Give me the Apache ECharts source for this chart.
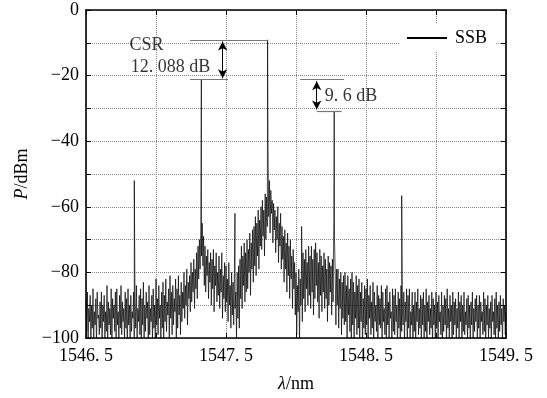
<!DOCTYPE html>
<html><head><meta charset="utf-8">
<script src="https://cdn.jsdelivr.net/npm/echarts@6/dist/echarts.min.js"></script>
<style>html,body{margin:0;padding:0;background:#fff}#c{width:547px;height:398px}</style>
</head><body><div id="c"></div>
<script>
// sampled spectrum: start wavelength, step (nm), power (dBm)
var lambdaStart = 1546.50;
var lambdaStep = 0.005;
var ssbPower = [
-88,-98,-86,-101,-91,-95,-87,-103,-90,-97,
-85,-100,-92,-96,-88,-102,-86,-94,-93,-99,
-89,-97,-86,-104,-90,-95,-87,-100,-92,-98,
-84,-101,-89,-96,-91,-99,-85,-103,-88,-94,
-90,-98,-86,-100,-85,-96,-92,-102,-87,-97,
-84,-99,-89,-95,-91,-101,-86,-97,-88,-104,
-85,-96,-90,-100,-87,-98,-92,-94,-86,-102,
-89,-97,-84,-101,-91,-95,-87,-99,-85,-103,
-88,-96,-83,-100,-90,-98,-86,-94,-89,-102,
-84,-99,-91,-95,-87,-101,-85,-97,-90,-100,
-82,-96,-88,-99,-84,-94,-90,-102,-86,-97,
-83,-100,-87,-95,-82,-98,-89,-93,-85,-101,
-81,-94,-86,-99,-84,-96,-88,-92,-82,-100,
-85,-97,-81,-93,-87,-99,-83,-95,-86,-91,
-80,-94,-84,-90,-79,-96,-83,-88,-81,-92,
-77,-89,-80,-86,-76,-91,-79,-85,-74,-88,
-72,-82,-70,-79,-67,-75,-65,-78,-69,-84,
-72,-86,-75,-81,-73,-88,-77,-83,-74,-90,
-76,-85,-73,-92,-78,-84,-74,-89,-80,-87,
-75,-91,-79,-86,-74,-94,-81,-88,-77,-92,
-78,-89,-82,-95,-77,-90,-84,-97,-80,-93,
-83,-96,-79,-91,-86,-100,-80,-94,-78,-97,
-76,-88,-72,-91,-75,-84,-71,-89,-74,-86,
-70,-85,-73,-80,-68,-87,-71,-79,-67,-83,
-66,-78,-63,-81,-65,-75,-61,-79,-64,-72,
-60,-73,-58,-69,-61,-75,-56,-70,-57,-66,
-42,-63,-52,-68,-55,-62,-58,-71,-59,-67,
-61,-74,-63,-70,-60,-77,-65,-72,-62,-79,
-66,-76,-69,-83,-67,-79,-71,-86,-68,-81,
-72,-88,-70,-82,-75,-91,-73,-85,-77,-93,
-80,-99,-84,-92,-79,-102,-82,-90,-76,-95,
-74,-88,-76,-92,-73,-85,-77,-90,-72,-87,
-75,-91,-72,-86,-76,-93,-73,-88,-71,-84,
-74,-89,-77,-94,-73,-87,-75,-92,-78,-86,
-74,-91,-76,-88,-79,-95,-75,-90,-77,-86,
-78,-93,-76,-89,-64,-70,-80,-96,-79,-90,
-79,-97,-82,-91,-80,-99,-83,-94,-81,-96,
-80,-95,-84,-100,-81,-93,-85,-98,-82,-101,
-80,-96,-83,-102,-86,-94,-81,-99,-84,-97,
-82,-100,-86,-95,-83,-103,-88,-97,-84,-99,
-85,-96,-82,-101,-87,-94,-84,-99,-89,-97,
-83,-102,-86,-95,-90,-98,-84,-100,-87,-96,
-88,-97,-84,-103,-86,-95,-91,-99,-85,-101,
-84,-96,-89,-100,-86,-94,-92,-102,-85,-98,
-87,-99,-85,-95,-90,-103,-86,-97,-88,-100,
-84,-98,-91,-96,-86,-101,-89,-95,-85,-102,
-87,-97,-85,-100,-92,-96,-86,-103,-90,-98,
-86,-101,-89,-95,-85,-99,-91,-97,-87,-102,
-88,-96,-86,-100,-90,-98,-85,-104,-89,-95,
-87,-99,-91,-97,-86,-102,-88,-96,-90,-100,
-86,-97,-89,-101,-87,-95,-92,-99,-86,-103,
-90,-98,-87,-96,-88,-102,-85,-97,-91,-100,
-87,-95,-90,-103,-86,-99,-89,-96,-88,-101,
-91,-97,-86,-100,-89,-95,-87,-102,-90,-98,
-86,-99,-92,-96,-88,-101,-87,-97,-90,-103,
-89,-96,-86,-100,-91,-98,-88,-95,-87,-102,
-90,-97,-87,-101,-89,-95,-92,-99,-86,-98,
-88,-103,-90,-96,-87,-100,-91,-97,-89,-101,
-87,-95,-92,-99,-88,-102,-86,-97,-90,-100,
-89,-98,-87,-96,-91,-101,-88,-95,-90,-99,
-92
];
// narrow spectral lines
var spikeLambda = [1546.845, 1547.324, 1547.564, 1547.797, 1548.040, 1548.273, 1548.755];
var spikePower  = [-52, -21.2, -62, -9.1, -66, -30.8, -56.6];

// annotation bars [x1, y1, x2, y2]
var barLines = [
  [1547.243, -9.1, 1547.80, -9.1],
  [1547.243, -21.2, 1547.514, -21.2],
  [1548.029, -21.2, 1548.343, -21.2],
  [1548.148, -30.8, 1548.326, -30.8]
];
var arrowLines = [
  [1547.476, -9.6, 1547.476, -20.8],
  [1548.148, -21.7, 1548.148, -30.3]
];
var noteText = ['CSR', '12. 088 dB', '9. 6 dB'];
var noteX = [1546.81, 1546.82, 1548.205];
var noteY = [-10.6, -17.6, -26.4];

var xTicks = [1546.5, 1547.5, 1548.5, 1549.5];
var yTicks = [0, -20, -40, -60, -80, -100];

var pts = [];
for (var i = 0; i < ssbPower.length; i++) pts.push([+(lambdaStart + i * lambdaStep).toFixed(4), ssbPower[i]]);
for (var j = 0; j < spikeLambda.length; j++) pts.push([spikeLambda[j], spikePower[j]]);
pts.sort(function (a, b) { return a[0] - b[0]; });

var FONT = "'Liberation Serif','DejaVu Serif',serif";
function fmtX(v) {
  for (var k = 0; k < xTicks.length; k++) if (Math.abs(v - xTicks[k]) < 1e-6) return v.toFixed(1).replace('.', '. ');
  return '';
}
function fmtY(v) {
  for (var k = 0; k < yTicks.length; k++) if (Math.abs(v - yTicks[k]) < 1e-6) return v < 0 ? '\u2212' + (-v) : String(v);
  return '';
}
function toML(arr) { return arr.map(function (l) { return [{ coord: [l[0], l[1]] }, { coord: [l[2], l[3]] }]; }); }

var axisCommon = {
  axisLine: { show: true, onZero: false, lineStyle: { color: '#000', width: 1.6 } },
  axisTick: { show: true, inside: true, length: 5, lineStyle: { color: '#000', width: 1 } }
};

var chart = echarts.init(document.getElementById('c'), null, { renderer: 'canvas' });
chart.setOption({
  animation: false,
  backgroundColor: '#fff',
  grid: { left: 86, right: 41, top: 10, bottom: 58, containLabel: false },
  legend: {
    data: [{ name: 'SSB', icon: 'rect' }], left: 400, top: 24, padding: [5, 9, 5, 7], backgroundColor: '#fff',
    itemWidth: 40, itemHeight: 2, itemGap: 5,
    itemStyle: { color: '#000' },
    textStyle: { fontFamily: FONT, fontSize: 18, color: '#000', padding: [0, 0, 0, 3] }
  },
  xAxis: [
    Object.assign({
      type: 'value', min: 1546.5, max: 1549.5, interval: 0.5, position: 'bottom',
      axisLabel: { formatter: fmtX, fontFamily: FONT, fontSize: 18, color: '#000', margin: 9 },
      splitLine: { show: true, lineStyle: { type: 'dotted', color: '#888', width: 1 } },
      name: '{i|\u03bb}{n|/nm}', nameLocation: 'middle', nameGap: 37,
      nameTextStyle: { rich: { i: { fontFamily: FONT, fontSize: 18, fontStyle: 'italic', color: '#000' }, n: { fontFamily: FONT, fontSize: 18, color: '#000' } } }
    }, axisCommon),
    Object.assign({
      type: 'value', min: 1546.5, max: 1549.5, interval: 0.5, position: 'top',
      axisLabel: { show: false }, splitLine: { show: false }
    }, axisCommon)
  ],
  yAxis: [
    Object.assign({
      type: 'value', min: -100, max: 0, interval: 10, position: 'left',
      axisLabel: { formatter: fmtY, fontFamily: FONT, fontSize: 18, color: '#000', margin: 7 },
      splitLine: { show: true, lineStyle: { type: 'dotted', color: '#888', width: 1 } },
      name: '{i|P}{n|/dBm}', nameLocation: 'middle', nameGap: 41, nameRotate: 90,
      nameTextStyle: { rich: { i: { fontFamily: FONT, fontSize: 18, fontStyle: 'italic', color: '#000' }, n: { fontFamily: FONT, fontSize: 18, color: '#000' } } }
    }, axisCommon),
    Object.assign({
      type: 'value', min: -100, max: 0, interval: 10, position: 'right',
      axisLabel: { show: false }, splitLine: { show: false }
    }, axisCommon)
  ],
  series: [
    {
      name: 'SSB', type: 'line', data: pts, symbol: 'none', showSymbol: false, clip: true,
      sampling: null, lineStyle: { color: '#000', width: 0.7 }, itemStyle: { color: '#000' }, z: 2
    },
    {
      name: 'bars', type: 'line', data: [], silent: true,
      markLine: { silent: true, symbol: ['none', 'none'], label: { show: false },
        lineStyle: { color: '#777', width: 1.2, type: 'solid' }, data: toML(barLines) }
    },
    {
      name: 'arrows', type: 'line', data: [], silent: true,
      markLine: { silent: true, symbol: ['arrow', 'arrow'], symbolSize: [7, 9], label: { show: false },
        lineStyle: { color: '#000', width: 1, type: 'solid' }, data: toML(arrowLines) }
    },
    {
      name: 'notes', type: 'scatter', symbolSize: 0, silent: true, z: 5,
      data: noteText.map(function (t, k) { return { value: [noteX[k], noteY[k]], name: t }; }),
      label: { show: true, position: 'right', distance: 0, formatter: function (p) { return p.name; },
        fontFamily: FONT, fontSize: 18, color: '#000' }
    }
  ]
});
</script></body></html>
